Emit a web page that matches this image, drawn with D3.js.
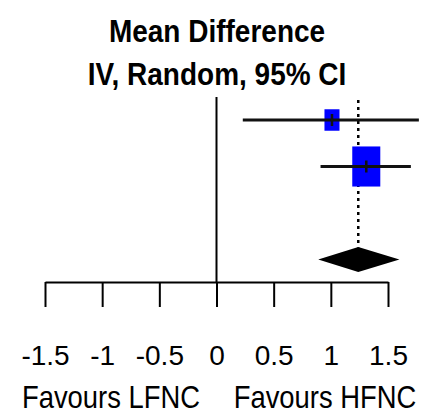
<!DOCTYPE html>
<html>
<head>
<meta charset="utf-8">
<script src="https://cdn.jsdelivr.net/npm/d3@7"></script>
<style>
  body { margin: 0; background: #fff; }
  svg text { font-family: "Liberation Sans", Arial, sans-serif; fill: #000; }
</style>
</head>
<body>
<div class="chart"></div>
<script>
// study data (mean difference, 95% CI, weight %)
var studyMean = [1.01, 1.31];
var studyLow = [0.23, 0.91];
var studyHigh = [1.77, 1.70];
var studyWeight = [22.3, 77.7];

// pooled estimate
var pooledMean = 1.24;
var pooledLow = 0.89;
var pooledHigh = 1.60;

var tickValues = [-1.5, -1, -0.5, 0, 0.5, 1, 1.5];
var tickLabels = ["-1.5", "-1", "-0.5", "0", "0.5", "1", "1.5"];
var titleLines = ["Mean Difference", "IV, Random, 95% CI"];
var favourLabels = ["Favours LFNC", "Favours HFNC"];

var svgWidth = 424, svgHeight = 414;

var svg = d3.select(".chart")
  .append("svg")
  .attr("width", svgWidth)
  .attr("height", svgHeight);

var xScale = d3.scaleLinear()
  .domain([-1.5, 1.5])
  .range([45, 388]);

// row 0,1 = studies, row 3 = pooled diamond
var yScale = d3.scaleLinear()
  .domain([0, 3])
  .range([120, 259.5]);

var axisY = 282;

// square size from weight
var sizeScale = d3.scaleSqrt()
  .domain([0, 100])
  .range([0, 31.8]);

// titles
svg.append("text")
  .attr("transform", "translate(217,42) scale(1,1.12)")
  .attr("text-anchor", "middle")
  .attr("font-size", "28px")
  .attr("font-weight", "bold")
  .text(titleLines[0]);

svg.append("text")
  .attr("transform", "translate(217,85) scale(1,1.15)")
  .attr("text-anchor", "middle")
  .attr("font-size", "28px")
  .attr("font-weight", "bold")
  .text(titleLines[1]);

// line of no effect
svg.append("line")
  .attr("x1", xScale(0)).attr("x2", xScale(0))
  .attr("y1", 97).attr("y2", axisY)
  .attr("stroke", "#000")
  .attr("stroke-width", 2);

// pooled estimate dotted line
svg.append("line")
  .attr("x1", xScale(pooledMean)).attr("x2", xScale(pooledMean))
  .attr("y1", 100).attr("y2", yScale(3) - 12)
  .attr("stroke", "#000")
  .attr("stroke-width", 2.5)
  .attr("stroke-dasharray", "3,4");

var studies = studyMean.map(function (m, i) {
  return { mean: m, low: studyLow[i], high: studyHigh[i], weight: studyWeight[i], row: i };
});

var rows = svg.selectAll(".study")
  .data(studies)
  .enter()
  .append("g")
  .attr("class", "study");

rows.append("rect")
  .attr("x", d => xScale(d.mean) - sizeScale(d.weight) / 2)
  .attr("y", d => yScale(d.row) - sizeScale(d.weight) * 1.43 / 2)
  .attr("width", d => sizeScale(d.weight))
  .attr("height", d => sizeScale(d.weight) * 1.43)
  .attr("fill", "#0000ff");

rows.append("line")
  .attr("x1", d => xScale(d.low))
  .attr("x2", d => xScale(d.high))
  .attr("y1", d => yScale(d.row))
  .attr("y2", d => yScale(d.row))
  .attr("stroke", "#111")
  .attr("stroke-width", 3);

rows.append("line")
  .attr("x1", d => xScale(d.mean))
  .attr("x2", d => xScale(d.mean))
  .attr("y1", d => yScale(d.row) - 6)
  .attr("y2", d => yScale(d.row) + 6)
  .attr("stroke", "#111")
  .attr("stroke-width", 2.5);

// pooled diamond
var dy = yScale(3);
svg.append("path")
  .attr("d", "M" + xScale(pooledLow) + "," + dy +
    "L" + xScale(pooledMean) + "," + (dy - 12.5) +
    "L" + xScale(pooledHigh) + "," + dy +
    "L" + xScale(pooledMean) + "," + (dy + 12.5) + "Z")
  .attr("fill", "#000");

// x axis
var bottomAxis = d3.axisBottom(xScale)
  .tickValues(tickValues)
  .tickFormat((d, i) => tickLabels[i])
  .tickSizeInner(25)
  .tickSizeOuter(0);

var xAxis = svg.append("g")
  .attr("transform", `translate(0, ${axisY})`)
  .call(bottomAxis);

xAxis.select(".domain").attr("stroke-width", 2);
xAxis.selectAll(".tick line").attr("stroke-width", 2);
xAxis.selectAll(".tick text")
  .attr("y", 83)
  .attr("dy", 0)
  .attr("font-size", "28px")
  .attr("font-family", "Liberation Sans, Arial, sans-serif")
  .attr("fill", "#000");

// favours labels
svg.append("text")
  .attr("transform", "translate(111,408) scale(1,1.15)")
  .attr("text-anchor", "middle")
  .attr("font-size", "27.4px")
  .text(favourLabels[0]);

svg.append("text")
  .attr("transform", "translate(325,408) scale(1,1.15)")
  .attr("text-anchor", "middle")
  .attr("font-size", "27.4px")
  .text(favourLabels[1]);
</script>
</body>
</html>
